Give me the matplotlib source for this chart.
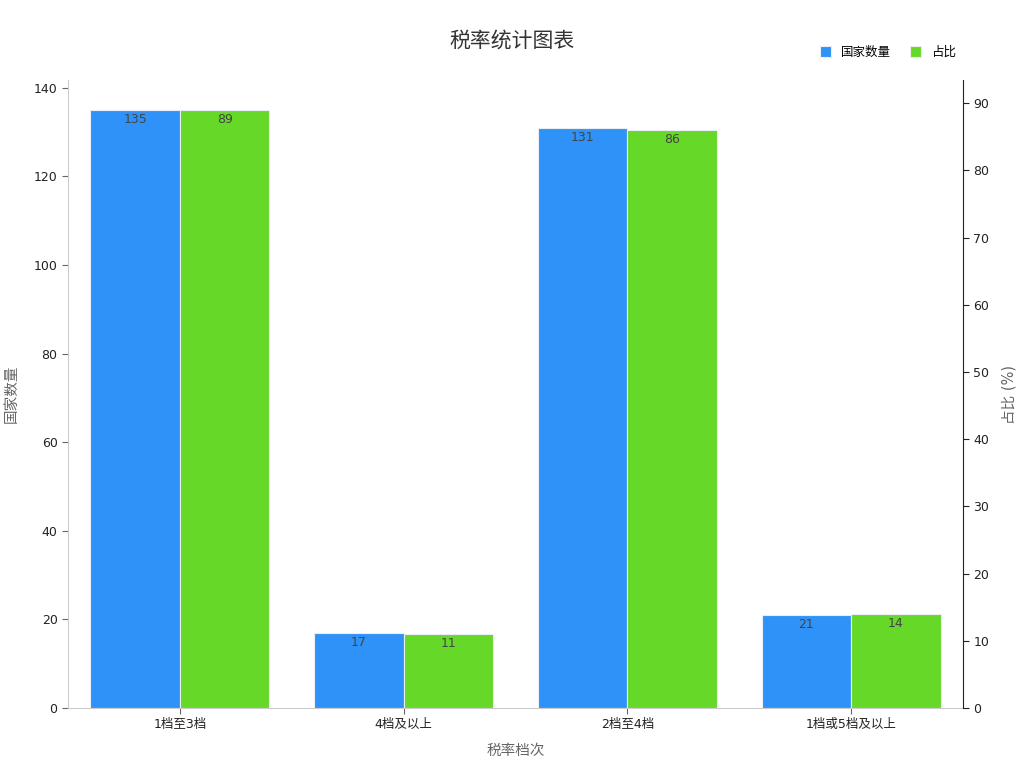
import numpy as np
import matplotlib.pyplot as plt

plt.rcParams['font.family'] = ['DejaVu Sans', 'Noto Sans CJK SC']

categories = ["1档至3档", "4档及以上", "2档至4档", "1档或5档及以上"]
country_counts = [135, 17, 131, 21]
shares = [89, 11, 86, 14]

blue = '#2f92f8'
green = '#66d928'

fig = plt.figure(figsize=(10.24, 7.68), dpi=100)
ax = fig.add_axes([68 / 1024, 60 / 768, 895 / 1024, 628 / 768])
ax2 = ax.twinx()

x = np.arange(len(categories))
w = 0.4
b1 = ax.bar(x - w / 2, country_counts, w, color=blue, edgecolor='#e8eef5', linewidth=0.8, label='国家数量')
b2 = ax2.bar(x + w / 2, shares, w, color=green, edgecolor='#e8eef5', linewidth=0.8, label='占比')

ax.set_xlim(-0.5, 3.5)
ax.set_ylim(0, max(country_counts) * 1.05)
ax2.set_ylim(0, max(shares) * 1.05)
ax.set_yticks(range(0, 141, 20))
ax2.set_yticks(range(0, 91, 10))
ax.set_xticks(x)
ax.set_xticklabels(categories)

for rect, v in zip(b1, country_counts):
    ax.annotate(str(v), (rect.get_x() + rect.get_width() / 2, v), xytext=(0, -7),
                textcoords='offset points', ha='center', va='center', fontsize=9, color='#444444')
for rect, v in zip(b2, shares):
    ax2.annotate(str(v), (rect.get_x() + rect.get_width() / 2, v), xytext=(0, -7),
                 textcoords='offset points', ha='center', va='center', fontsize=9, color='#444444')

for a in (ax, ax2):
    a.spines['top'].set_visible(False)
    a.tick_params(labelsize=9, colors='#222222', length=4)
ax.spines['left'].set_color('#cccccc')
ax.spines['bottom'].set_color('#cccccc')
ax.spines['right'].set_visible(False)
ax2.spines['left'].set_visible(False)
ax2.spines['bottom'].set_visible(False)
ax2.spines['right'].set_color('#222222')
ax.tick_params(axis='y', color='#666666')
ax.tick_params(axis='x', color='#666666')

ax.set_xlabel("税率档次", fontsize=10.5, color='#666666')
ax.set_ylabel("国家数量", fontsize=10.5, color='#666666')
ax2.set_ylabel("占比 (%)", fontsize=10.5, color='#666666')
ax.xaxis.set_label_coords(0.5, -0.056)
ax.yaxis.set_label_coords(-0.055, 0.5)
ax2.yaxis.set_label_coords(1.043, 0.5)

fig.suptitle("税率统计图表", fontsize=15, color='#333333', y=0.96)
fig.legend(handles=[b1, b2], loc='upper right', bbox_to_anchor=(0.945, 0.955), ncol=2,
           frameon=False, fontsize=9, handlelength=0.9, handleheight=0.9, columnspacing=1.5)

fig.savefig('out.png', dpi=100)
